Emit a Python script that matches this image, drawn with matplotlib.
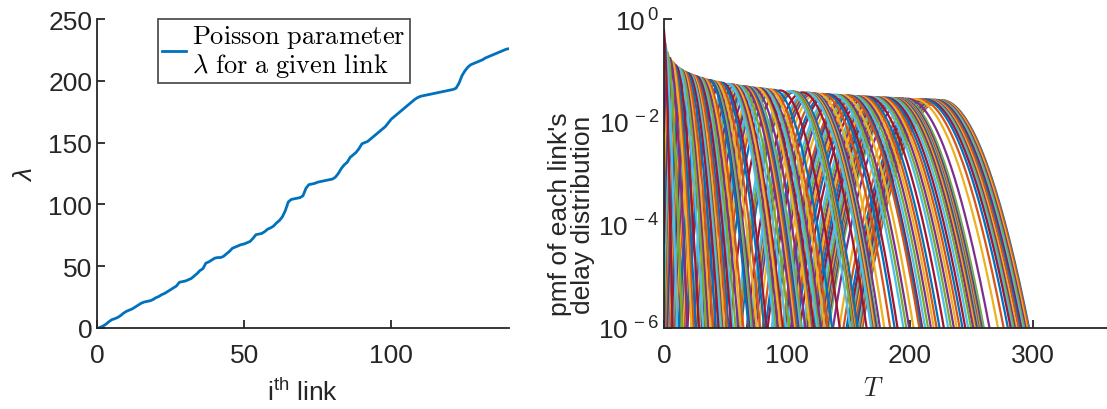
import math
import numpy as np
import matplotlib
matplotlib.use('Agg')
import matplotlib.pyplot as plt
from matplotlib.ticker import FixedLocator, FuncFormatter, LogLocator, NullFormatter

plt.rcParams['font.family'] = ['Liberation Sans', 'DejaVu Sans']
plt.rcParams['mathtext.fontset'] = 'custom'
plt.rcParams['mathtext.rm'] = 'Liberation Sans'
plt.rcParams['mathtext.it'] = 'Liberation Sans:italic'
plt.rcParams['mathtext.bf'] = 'Liberation Sans:bold'

# Poisson parameter lambda for each link
lam = [0.5, 1.5, 3, 5, 6.7, 7.5, 8.5, 10, 12, 13.5,
       14.5, 15.5, 17, 18.5, 20, 21, 21.5, 22, 23, 24.5,
       25.5, 27, 28, 29.5, 31, 32.5, 34, 37, 37.5, 38,
       39, 40, 42, 44, 46.5, 48, 52.5, 53.5, 55, 56.5,
       57, 57, 58, 60, 62, 64.5, 65.5, 66.5, 67.5, 68,
       69, 70, 72.5, 75.5, 76, 76.5, 78, 80, 81, 82.5,
       85, 87, 90, 95, 102, 104, 104.5, 105, 105.5, 107,
       113, 116, 116.5, 117, 118, 118.5, 119, 119.5, 120, 120.5,
       122, 125, 129, 132, 134, 138, 140, 142, 145, 149,
       150, 151, 153, 155, 157, 159, 161, 163, 166, 169,
       171, 173, 175, 177, 179, 181, 183, 185, 186.5, 187.5,
       188, 188.5, 189, 189.5, 190, 190.5, 191, 191.5, 192, 192.5,
       193, 194, 198, 204, 208, 211, 213, 214, 215, 216,
       217, 218.5, 219.5, 220.5, 221.5, 222.5, 223.5, 224.5, 225.5, 226]
links = np.arange(1, len(lam) + 1)
T = np.arange(0, 301)

colors = ['#0072BD', '#D95319', '#EDB120', '#7E2F8E', '#77AC30', '#4DBEEE', '#A2142F']

fig = plt.figure(figsize=(11.07, 4.10), dpi=100)
ax1 = fig.add_axes([97/1107, 81/410, 412/1107, 309/410])
ax2 = fig.add_axes([664/1107, 81/410, 443/1107, 309/410])

# left: lambda per link
line, = ax1.plot(links, lam, color=colors[0], lw=2)
ax1.set_xlim(0, 140)
ax1.set_ylim(0, 250)
ax1.set_xticks([0, 50, 100])
ax1.set_yticks([0, 50, 100, 150, 200, 250])
ax1.set_xlabel(r'$\mathregular{i^{th}}$ link', fontsize=19, labelpad=8)
ax1.set_ylabel(r'$\lambda$', fontsize=19, labelpad=8)
leg = ax1.legend([line],
                 [r'$\mathrm{Poisson\ parameter}$' + '\n' + r'$\lambda\ \mathrm{for\ a\ given\ link}$'],
                 loc='upper left', bbox_to_anchor=(0.148, 1.0), fontsize=19,
                 frameon=True, fancybox=False, handlelength=0.9, handletextpad=0.25,
                 borderpad=0.15, borderaxespad=0, labelspacing=0.2)
leg.get_frame().set_edgecolor('#262626')
leg.get_frame().set_linewidth(1.3)
for t in leg.get_texts():
    t.set_math_fontfamily('cm')
    t.set_linespacing(1.05)

# right: pmf of each link's delay distribution (links taken largest first)
for i, l in enumerate(lam[::-1]):
    logp = np.array([-l + k * math.log(l) - math.lgamma(k + 1) for k in T])
    ax2.plot(T, np.exp(logp), color=colors[i % 7], lw=1.6)
ax2.set_yscale('log')
ax2.set_ylim(1e-6, 1)
ax2.set_xlim(0, 360)
ax2.set_xticks([0, 100, 200, 300])
ax2.yaxis.set_major_locator(FixedLocator([1e-6, 1e-4, 1e-2, 1]))
ax2.yaxis.set_major_formatter(FuncFormatter(
    lambda v, p: r'$\mathregular{10^{\,%d}}$' % round(math.log10(v))))
ax2.yaxis.set_minor_locator(LogLocator(base=10, subs=np.arange(2, 10)))
ax2.yaxis.set_minor_formatter(NullFormatter())
ax2.set_xlabel('$T$', fontsize=19, math_fontfamily='cm', labelpad=2)
ax2.xaxis.set_label_coords(0.472, -0.155)
ax2.set_ylabel("pmf of each link's\ndelay distribution", fontsize=19,
               linespacing=0.95, labelpad=4)
ax2.yaxis.set_label_coords(-0.155, 0.37)

for ax in (ax1, ax2):
    ax.spines['top'].set_visible(False)
    ax.spines['right'].set_visible(False)
    for s in ('left', 'bottom'):
        ax.spines[s].set_color('#262626')
        ax.spines[s].set_linewidth(1.3)
    ax.tick_params(direction='in', length=6, width=1.3, colors='#262626',
                   labelsize=19, labelcolor='#262626')
    ax.tick_params(axis='x', pad=11)
    ax.tick_params(which='minor', direction='in', length=3, width=0.8, colors='#262626')
    ax.xaxis.label.set_color('#262626')
    ax.yaxis.label.set_color('#262626')

fig.savefig('out.png', dpi=100)
